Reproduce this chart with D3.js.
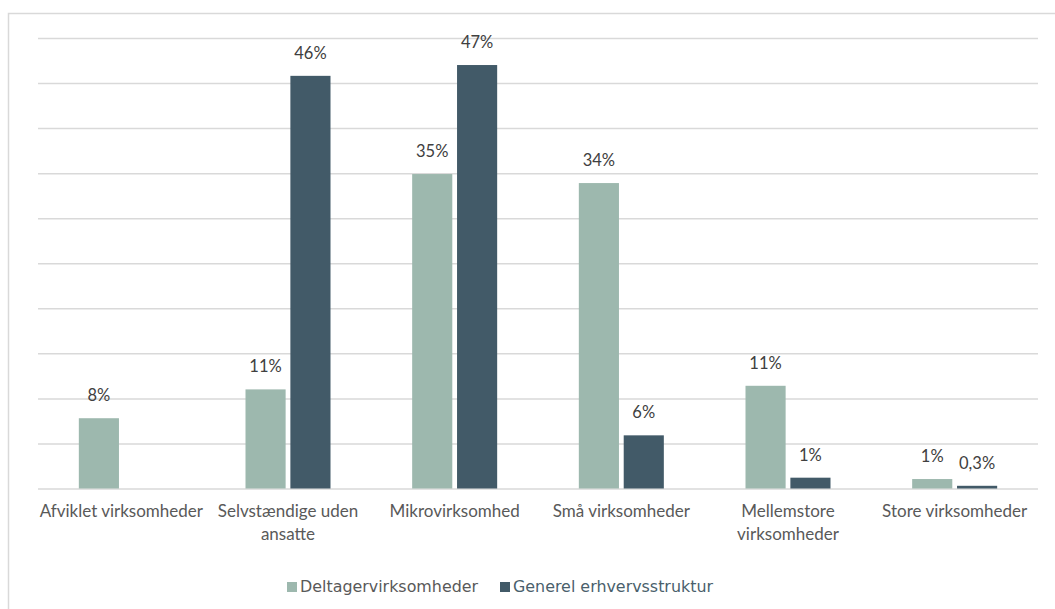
<!DOCTYPE html>
<html>
<head>
<meta charset="utf-8">
<script src="https://cdn.jsdelivr.net/npm/d3@7/dist/d3.min.js"></script>
<style>
  html, body { margin: 0; padding: 0; background: #fff; }
  svg { display: block; }
</style>
</head>
<body>
<svg id="chart" width="1055" height="609"></svg>
<script>
const categories = [
  ["Afviklet virksomheder"],
  ["Selvstændige uden", "ansatte"],
  ["Mikrovirksomhed"],
  ["Små virksomheder"],
  ["Mellemstore", "virksomheder"],
  ["Store virksomheder"]
];
const seriesNames = ["Deltagervirksomheder", "Generel erhvervsstruktur"];
const deltager = [7.8, 11.0, 34.9, 33.9, 11.4, 1.05];
const generel = [null, 45.8, 47.0, 5.9, 1.2, 0.3];
const deltagerLabels = ["8%", "11%", "35%", "34%", "11%", "1%"];
const generelLabels = [null, "46%", "47%", "6%", "1%", "0,3%"];
const yTicks = [0, 5, 10, 15, 20, 25, 30, 35, 40, 45, 50];
const colors = ["#9db8ae", "#425a68"];

(function () {
const svg = d3.select("#chart");

// outer chart border
svg.append("rect").attr("x", 8.5).attr("y", 13.5).attr("width", 1100).attr("height", 700)
  .attr("fill", "none").attr("stroke", "#d9d9d9").attr("stroke-width", 1.5);

const pLeft = 38, pRight = 1038, pTop = 38, pBottom = 488.5;
const x0 = d3.scaleBand().domain(d3.range(categories.length)).range([pLeft, pRight]).padding(0);
const barW = 38, barGap = 9;
const x1 = d3.scaleBand().domain([0, 1])
  .range([x0.bandwidth() / 2 - barW - barGap / 2, x0.bandwidth() / 2 + barW + barGap / 2])
  .paddingInner(barGap / (2 * barW + barGap));
const y = d3.scaleLinear().domain([0, 50]).range([pBottom, pTop]);

// gridlines
const yAxis = d3.axisLeft(y).tickValues(yTicks).tickSize(-(pRight - pLeft)).tickFormat("");
const gAxis = svg.append("g").attr("transform", `translate(${pLeft},0)`).call(yAxis);
gAxis.select(".domain").remove();
gAxis.selectAll(".tick line").attr("stroke", "#d9d9d9").attr("stroke-width", 1.5);

const data = categories.map((c, i) => ({ i, vals: [deltager[i], generel[i]], labels: [deltagerLabels[i], generelLabels[i]] }));

const groups = svg.append("g").selectAll("g").data(data).join("g")
  .attr("transform", d => `translate(${x0(d.i)},0)`);

groups.selectAll("rect").data(d => d.vals.map((v, s) => ({ v, s })).filter(e => e.v != null))
  .join("rect")
  .attr("x", e => x1(e.s)).attr("width", x1.bandwidth())
  .attr("y", e => y(e.v)).attr("height", e => y(0) - y(e.v))
  .attr("fill", e => colors[e.s]);

groups.selectAll("text.lbl").data(d => d.vals.map((v, s) => ({ v, s, t: d.labels[s] })).filter(e => e.v != null))
  .join("text").attr("class", "lbl")
  .attr("x", e => x1(e.s) + x1.bandwidth() / 2)
  .attr("y", e => y(e.v) - 17)
  .attr("text-anchor", "middle")
  .attr("font-family", "Lato, 'Open Sans', sans-serif")
  .attr("font-size", 16.5)
  .attr("fill", "#404040")
  .text(e => e.t);

// category labels
const cat = svg.append("g").selectAll("text").data(categories).join("text")
  .attr("x", (d, i) => x0(i) + x0.bandwidth() / 2)
  .attr("y", 517)
  .attr("text-anchor", "middle")
  .attr("font-family", "Lato, 'Open Sans', sans-serif")
  .attr("font-size", 17)
  .attr("fill", "#595959");
cat.selectAll("tspan").data(d => d).join("tspan")
  .attr("x", function () { return this.parentNode.getAttribute("x"); })
  .attr("dy", (d, j) => j === 0 ? 0 : 23)
  .text(d => d);

// legend
const legendX = [287, 500];
const legendTextColor = ["#595959", "#4a5f6c"];
const lg = svg.append("g").selectAll("g").data(seriesNames).join("g");
lg.append("rect").attr("x", (d, i) => legendX[i]).attr("y", 582).attr("width", 10).attr("height", 10)
  .attr("fill", (d, i) => colors[i]);
lg.append("text").attr("x", (d, i) => legendX[i] + 13).attr("y", 592)
  .attr("font-family", "'DejaVu Sans', Verdana, sans-serif").attr("font-size", 15.9)
  .attr("fill", (d, i) => legendTextColor[i])
  .text(d => d);
})();
</script>
</body>
</html>
